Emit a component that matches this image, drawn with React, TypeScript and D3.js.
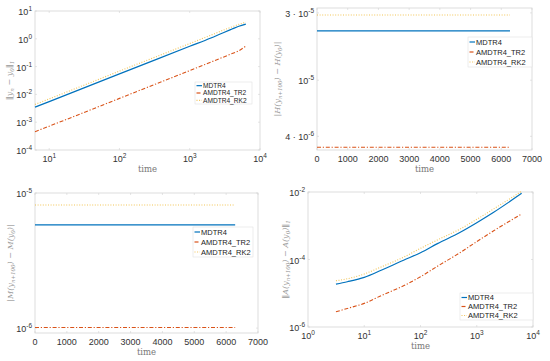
import * as d3 from 'd3';

const SERIES = ['MDTR4', 'AMDTR4_TR2', 'AMDTR4_RK2'];
const COLORS = ['#0072BD', '#D95319', '#EDB120'];
const DASHES = [undefined, '4,1.8,1.2,1.8', '1,1.6'];

// top-left: ||y_n - y_0||_1
const p1Time = [6.28, 10, 100, 1000, 2000, 3000, 4000, 5000, 6283];
const p1MDTR4 = [3.47e-3, 5.5e-3, 0.055, 0.537, 1.07, 1.66, 2.24, 2.82, 3.39];
const p1TR2 = [4.57e-4, 7.2e-4, 7.2e-3, 0.072, 0.145, 0.219, 0.295, 0.372, 0.55];
const p1RK2 = [4.37e-3, 6.9e-3, 0.069, 0.676, 1.35, 2.04, 2.69, 3.31, 3.98];

// top-right: |H(y_{n+100}) - H(y_0)|
const p2Time = [0, 6283];
const p2MDTR4 = [2.24e-5, 2.24e-5];
const p2TR2 = [3.35e-6, 3.35e-6];
const p2RK2 = [2.9e-5, 2.9e-5];

// bottom-left: |M(y_{n+100}) - M(y_0)|
const p3Time = [0, 6283];
const p3MDTR4 = [5.8e-6, 5.8e-6];
const p3TR2 = [1.01e-6, 1.01e-6];
const p3RK2 = [8.15e-6, 8.15e-6];

// bottom-right: ||A(y_{n+100}) - A(y_0)||_1
const p4Time = [3.14, 5, 10, 20, 50, 100, 200, 500, 1000, 2000, 6283];
const p4MDTR4 = [1.86e-5, 2.19e-5, 2.95e-5, 4.79e-5, 9.55e-5, 1.58e-4, 2.95e-4, 6.31e-4, 1.23e-3, 2.51e-3, 9.12e-3];
const p4TR2 = [2.82e-6, 3.55e-6, 5.01e-6, 8.51e-6, 1.66e-5, 3.09e-5, 6.31e-5, 1.58e-4, 3.39e-4, 7.08e-4, 2.24e-3];
const p4RK2 = [2.34e-5, 2.69e-5, 3.72e-5, 6.03e-5, 1.17e-4, 2.14e-4, 3.8e-4, 7.94e-4, 1.55e-3, 3.16e-3, 1.05e-2];

// tick values / labels
const p1XTicks = [10, 100, 1000, 10000];
const p1YTicks = [1e-4, 1e-3, 1e-2, 1e-1, 1, 10];
const p2YTicks: [number, string, string][] = [[4e-6, '4 · ', '-6'], [1e-5, '', '-5'], [3e-5, '3 · ', '-5']];
const linTicks = [0, 1000, 2000, 3000, 4000, 5000, 6000, 7000];
const p3YTicks = [1e-6, 1e-5];
const p4XTicks = [1, 10, 100, 1000, 10000];
const p4YTicks = [1e-6, 1e-4, 1e-2];

const FRAME = '#d4d4d4';
const TICK_TXT = '#333';
const SANS = 'Liberation Sans, Arial, sans-serif';
const SERIF = 'DejaVu Serif, Liberation Serif, serif';

type Tick = { v: number; pre: string; exp: string | null; txt?: string };

function expTick(v: number): Tick {
  return { v, pre: '', exp: String(Math.round(Math.log10(v))) };
}

function TickLabel({ x, y, t, anchor }: { x: number; y: number; t: Tick; anchor: string }) {
  if (t.exp === null) {
    return <text x={x} y={y} textAnchor={anchor} fontSize={9} fill={TICK_TXT} fontFamily={SANS}>{t.txt}</text>;
  }
  return (
    <text x={x} y={y} textAnchor={anchor} fontSize={9} fill={TICK_TXT} fontFamily={SANS}>
      {t.pre}10<tspan dy={-4} fontSize={6.5}>{t.exp}</tspan>
    </text>
  );
}

interface PanelProps {
  box: [number, number, number, number]; // x0, x1, y0, y1
  xLog: boolean;
  xDomain: [number, number];
  yDomain: [number, number];
  xTicks: Tick[];
  yTicks: Tick[];
  time: number[];
  series: number[][];
  legend: [number, number, number, number];
  legendFont: number;
  yLabel: React.ReactNode;
  yLabelX: number;
}

function Panel(p: PanelProps) {
  const [x0, x1, y0, y1] = p.box;
  const xs = p.xLog
    ? d3.scaleLog().domain(p.xDomain).range([x0, x1])
    : d3.scaleLinear().domain(p.xDomain).range([x0, x1]);
  const ys = d3.scaleLog().domain(p.yDomain).range([y1, y0]);
  const line = d3.line<[number, number]>()
    .x((d) => xs(d[0]))
    .y((d) => ys(d[1]))
    .curve(d3.curveMonotoneX);
  const [lx, ly, lw, lh] = p.legend;
  const rowH = lh / 3;
  return (
    <g>
      <rect x={x0} y={y0} width={x1 - x0} height={y1 - y0} fill="#fff" stroke={FRAME} strokeWidth={0.8} />
      {p.xTicks.map((t, i) => (
        <g key={'xt' + i}>
          <line x1={xs(t.v)} x2={xs(t.v)} y1={y1} y2={y1 - 2} stroke={FRAME} strokeWidth={0.6} />
          <line x1={xs(t.v)} x2={xs(t.v)} y1={y0} y2={y0 + 2} stroke={FRAME} strokeWidth={0.6} />
          <TickLabel x={xs(t.v)} y={y1 + 12} t={t} anchor="middle" />
        </g>
      ))}
      {p.yTicks.map((t, i) => (
        <g key={'yt' + i}>
          <line x1={x0} x2={x0 + 2} y1={ys(t.v)} y2={ys(t.v)} stroke={FRAME} strokeWidth={0.6} />
          <line x1={x1} x2={x1 - 2} y1={ys(t.v)} y2={ys(t.v)} stroke={FRAME} strokeWidth={0.6} />
          <TickLabel x={x0 - 3} y={ys(t.v) + 4} t={t} anchor="end" />
        </g>
      ))}
      {p.series.map((vals, si) => (
        <path
          key={'s' + si}
          d={line(p.time.map((t, i) => [t, vals[i]] as [number, number])) || ''}
          fill="none"
          stroke={COLORS[si]}
          strokeWidth={si === 0 ? 1.2 : 1.1}
          strokeDasharray={DASHES[si]}
          opacity={si === 2 ? 0.75 : 1}
        />
      ))}
      <text x={(x0 + x1) / 2} y={y1 + 22} textAnchor="middle" fontSize={8.5} fill="#777" fontFamily={SERIF}>time</text>
      <text
        transform={`translate(${p.yLabelX},${(y0 + y1) / 2}) rotate(-90)`}
        textAnchor="middle"
        fontSize={8}
        fill="#999"
        fontFamily={SERIF}
        fontStyle="italic"
      >
        {p.yLabel}
      </text>
      <rect x={lx} y={ly} width={lw} height={lh} fill="#fff" stroke="#e2e2e2" strokeWidth={0.6} />
      {SERIES.map((name, i) => (
        <g key={'lg' + i}>
          <line
            x1={lx + 1.5}
            x2={lx + 7}
            y1={ly + rowH * (i + 0.5)}
            y2={ly + rowH * (i + 0.5)}
            stroke={COLORS[i]}
            strokeWidth={1.2}
            strokeDasharray={DASHES[i]}
            opacity={i === 2 ? 0.75 : 1}
          />
          <text x={lx + 8} y={ly + rowH * (i + 0.5) + p.legendFont * 0.36} fontSize={p.legendFont} fill="#222" fontFamily={SANS}>{name}</text>
        </g>
      ))}
    </g>
  );
}

const sub = (s: string) => <tspan dy={2} fontSize={5.5}>{s}</tspan>;

export default function App() {
  const linT: Tick[] = linTicks.map((v) => ({ v, pre: '', exp: null, txt: String(v) }));
  return (
    <svg width={550} height={361} style={{ position: 'absolute', left: 0, top: 0, background: '#fff' }}>
      <Panel
        box={[35, 260, 11, 150]}
        xLog
        xDomain={[6.28, 10000]}
        yDomain={[1e-4, 10]}
        xTicks={p1XTicks.map(expTick)}
        yTicks={p1YTicks.map(expTick)}
        time={p1Time}
        series={[p1MDTR4, p1TR2, p1RK2]}
        legend={[195, 82, 57, 22]}
        legendFont={6.6}
        yLabelX={12}
        yLabel={<>‖y{sub('n')}<tspan dy={-2}> − y</tspan>{sub('0')}<tspan dy={-2}>‖</tspan>{sub('1')}</>}
      />
      <Panel
        box={[317, 532, 8, 150]}
        xLog={false}
        xDomain={[0, 7000]}
        yDomain={[3.2e-6, 3.25e-5]}
        xTicks={linT}
        yTicks={p2YTicks.map(([v, pre, exp]) => ({ v, pre, exp }))}
        time={p2Time}
        series={[p2MDTR4, p2TR2, p2RK2]}
        legend={[468, 37, 64, 30]}
        legendFont={7.5}
        yLabelX={280}
        yLabel={<>|H(y{sub('n+100')}<tspan dy={-2}>) − H(y</tspan>{sub('0')}<tspan dy={-2}>)|</tspan></>}
      />
      <Panel
        box={[35, 258, 193, 333]}
        xLog={false}
        xDomain={[0, 7000]}
        yDomain={[9.2e-7, 1e-5]}
        xTicks={linT}
        yTicks={p3YTicks.map(expTick)}
        time={p3Time}
        series={[p3MDTR4, p3TR2, p3RK2]}
        legend={[193, 227, 60, 30]}
        legendFont={7.5}
        yLabelX={13}
        yLabel={<>|M(y{sub('n+100')}<tspan dy={-2}>) − M(y</tspan>{sub('0')}<tspan dy={-2}>)|</tspan></>}
      />
      <Panel
        box={[308, 533, 192, 327]}
        xLog
        xDomain={[1, 10000]}
        yDomain={[1e-6, 1e-2]}
        xTicks={p4XTicks.map(expTick)}
        yTicks={p4YTicks.map(expTick)}
        time={p4Time}
        series={[p4MDTR4, p4TR2, p4RK2]}
        legend={[460, 293, 73, 27]}
        legendFont={7.5}
        yLabelX={288}
        yLabel={<>‖A(y{sub('n+100')}<tspan dy={-2}>) − A(y</tspan>{sub('0')}<tspan dy={-2}>)‖</tspan>{sub('1')}</>}
      />
    </svg>
  );
}
